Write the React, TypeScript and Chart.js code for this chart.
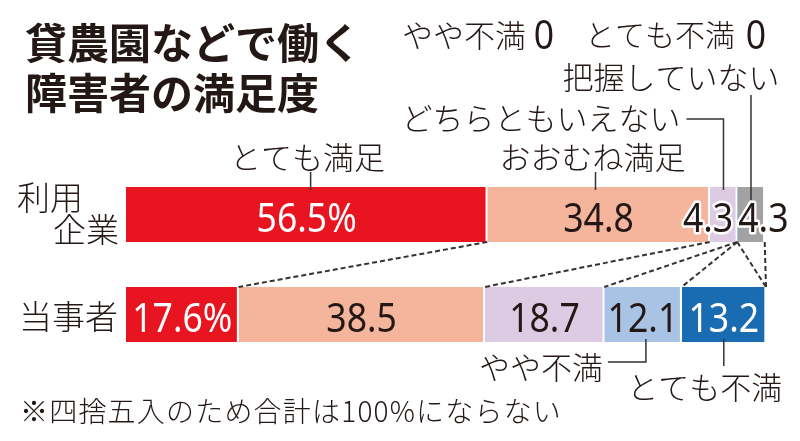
import React, { useEffect, useRef } from "react";
import { Chart, registerables } from "chart.js";

Chart.register(...registerables);

const categories = ["利用企業", "当事者"];
const seriesNames = ["とても満足", "おおむね満足", "どちらともいえない", "やや不満", "とても不満", "把握していない"];
const verySatisfied = [56.5, 17.6];
const mostlySatisfied = [34.8, 38.5];
const neutral = [4.3, 18.7];
const somewhatDissatisfied = [0, 12.1];
const veryDissatisfied = [0, 13.2];
const unknown = [4.3, 0];
const seriesColors = ["#E8141F", "#F5B49C", "#DDCBE3", "#A8C3E4", "#1A6CB2", "#A2A2A2"];
const valueColors = ["#ffffff", "#231815", "#231815", "#231815", "#ffffff", "#231815"];

const titleLines = ["貸農園などで働く", "障害者の満足度"];
const footnote = "※四捨五入のため合計は100%にならない";

const CJK = '"Noto Sans CJK JP", "Noto Sans", sans-serif';
const NUM = '"Noto Sans", "Roboto", sans-serif';
const INK = "#231815";

const allSeries = [verySatisfied, mostlySatisfied, neutral, somewhatDissatisfied, veryDissatisfied, unknown];

function drawNum(ctx: CanvasRenderingContext2D, text: string, x: number, y: number, align: CanvasTextAlign, color: string, outline: boolean) {
  ctx.save();
  ctx.font = `400 40px ${NUM}`;
  ctx.textAlign = align;
  ctx.textBaseline = "alphabetic";
  const w = ctx.measureText(text).width * 0.89;
  if (outline) {
    ctx.strokeStyle = "#ffffff";
    ctx.lineWidth = 5;
    ctx.lineJoin = "round";
    ctx.strokeText(text, x, y, w);
  }
  ctx.fillStyle = color;
  ctx.fillText(text, x, y, w);
  ctx.restore();
}

function cjkText(ctx: CanvasRenderingContext2D, text: string, x: number, y: number, align: CanvasTextAlign, size: number, weight = 300) {
  ctx.save();
  ctx.font = `${weight} ${size}px ${CJK}`;
  ctx.textAlign = align;
  ctx.textBaseline = "middle";
  ctx.fillStyle = INK;
  ctx.fillText(text, x, y);
  ctx.restore();
}

const annotate = {
  id: "annotate",
  afterDatasetsDraw(chart: any) {
    const ctx: CanvasRenderingContext2D = chart.ctx;
    const xs = chart.scales.x;
    const metas = allSeries.map((_, i) => chart.getDatasetMeta(i));
    const el = (s: number, c: number) => metas[s].data[c];

    // dashed connectors between cumulative boundaries
    const b1 = el(0, 0);
    const b2 = el(0, 1);
    const y1 = b1.y + b1.height / 2;
    const y2 = b2.y - b2.height / 2;
    let c1 = 0;
    let c2 = 0;
    ctx.save();
    ctx.strokeStyle = "#333333";
    ctx.lineWidth = 2;
    ctx.setLineDash([5, 3]);
    allSeries.forEach((arr) => {
      c1 += arr[0];
      c2 += arr[1];
      ctx.beginPath();
      ctx.moveTo(xs.getPixelForValue(c1), y1);
      ctx.lineTo(xs.getPixelForValue(c2), y2);
      ctx.stroke();
    });
    ctx.restore();

    // leader lines
    const top1 = b1.y - b1.height / 2;
    const bot2 = b2.y + b2.height / 2;
    const mid = (s: number, c: number) => (el(s, c).x + el(s, c).base) / 2;
    ctx.save();
    ctx.strokeStyle = "#333333";
    ctx.lineWidth = 1.5;
    const line = (pts: number[][]) => {
      ctx.beginPath();
      ctx.moveTo(pts[0][0], pts[0][1]);
      for (let i = 1; i < pts.length; i++) ctx.lineTo(pts[i][0], pts[i][1]);
      ctx.stroke();
    };
    const m0 = mid(0, 0) + 4;
    const m1 = mid(1, 0) - 3;
    const m2 = mid(2, 0);
    const m5 = mid(5, 0);
    const n3 = mid(3, 1) + 3;
    const n4 = mid(4, 1);
    line([[m0, top1 + 3], [m0, top1 - 15]]);
    line([[m1, top1 + 3], [m1, top1 - 15]]);
    line([[m2, top1 + 3], [m2, 119], [m2 - 37, 119]]);
    line([[m5, top1 + 13], [m5, 95]]);
    line([[n3, bot2 - 3], [n3, 362], [n3 - 38, 362]]);
    line([[n4, bot2 - 3], [n4, 366]]);
    ctx.restore();

    // labels
    cjkText(ctx, seriesNames[0], m0 - 3, top1 - 30, "center", 31);
    cjkText(ctx, seriesNames[1], m1 - 3, top1 - 30, "center", 31);
    cjkText(ctx, seriesNames[2], m2 - 43, 118, "right", 31);
    cjkText(ctx, seriesNames[5], m5 - 80, 77, "center", 31);
    cjkText(ctx, seriesNames[3], n3 - 43, 367, "right", 31);
    cjkText(ctx, seriesNames[4], n4 - 19, 387, "center", 31);
    cjkText(ctx, seriesNames[3], 402, 35, "left", 31);
    cjkText(ctx, seriesNames[4], 585, 35, "left", 30);
    drawNum(ctx, String(somewhatDissatisfied[0]), 544, 49, "center", INK, false);
    drawNum(ctx, String(veryDissatisfied[0]), 756, 49, "center", INK, false);

    // category labels
    cjkText(ctx, categories[0].slice(0, 2), 17, 197, "left", 33);
    cjkText(ctx, categories[0].slice(2), 119, 229, "right", 33);
    cjkText(ctx, categories[1], 118, b2.y + 2, "right", 33);

    // value labels
    allSeries.forEach((arr, s) => {
      arr.forEach((v, c) => {
        if (!v) return;
        const e = el(s, c);
        const txt = s === 0 ? `${v.toFixed(1)}%` : v.toFixed(1);
        const base = e.y + 17;
        if (c === 0 && s === 2) {
          drawNum(ctx, txt, e.x - 4, base, "right", valueColors[s], true);
        } else if (c === 0 && s === 5) {
          drawNum(ctx, txt, e.base + 1, base, "left", valueColors[s], true);
        } else {
          drawNum(ctx, txt, (e.x + e.base) / 2, base, "center", valueColors[s], false);
        }
      });
    });

    // title & footnote
    cjkText(ctx, titleLines[0], 25, 43, "left", 42, 700);
    cjkText(ctx, titleLines[1], 25, 93, "left", 42, 700);
    ctx.save();
    (ctx as any).letterSpacing = "1.2px";
    cjkText(ctx, footnote, 20, 411, "left", 28);
    ctx.restore();
  },
};

export default function App() {
  const ref = useRef<HTMLCanvasElement | null>(null);
  useEffect(() => {
    if (!ref.current) return;
    const chart = new Chart(ref.current, {
      type: "bar",
      data: {
        labels: categories,
        datasets: allSeries.map((arr, i) => ({
          label: seriesNames[i],
          data: arr,
          backgroundColor: seriesColors[i],
          borderColor: "#ffffff",
          borderWidth: { top: 0, bottom: 0, left: 0, right: 2 },
          borderSkipped: false,
          barThickness: 55,
        })),
      },
      options: {
        indexAxis: "y",
        responsive: false,
        animation: false,
        layout: { padding: { left: 126, right: 34, top: 164.5, bottom: 76.5 } },
        scales: {
          x: { stacked: true, min: 0, max: 100.1, display: false },
          y: { stacked: true, display: false },
        },
        plugins: { legend: { display: false }, tooltip: { enabled: false } },
      },
      plugins: [annotate],
    });
    return () => chart.destroy();
  }, []);
  return (
    <div style={{ position: "fixed", left: 0, top: 0, width: 800, height: 441, background: "#fff" }}>
      <canvas ref={ref} width={800} height={441} />
    </div>
  );
}
